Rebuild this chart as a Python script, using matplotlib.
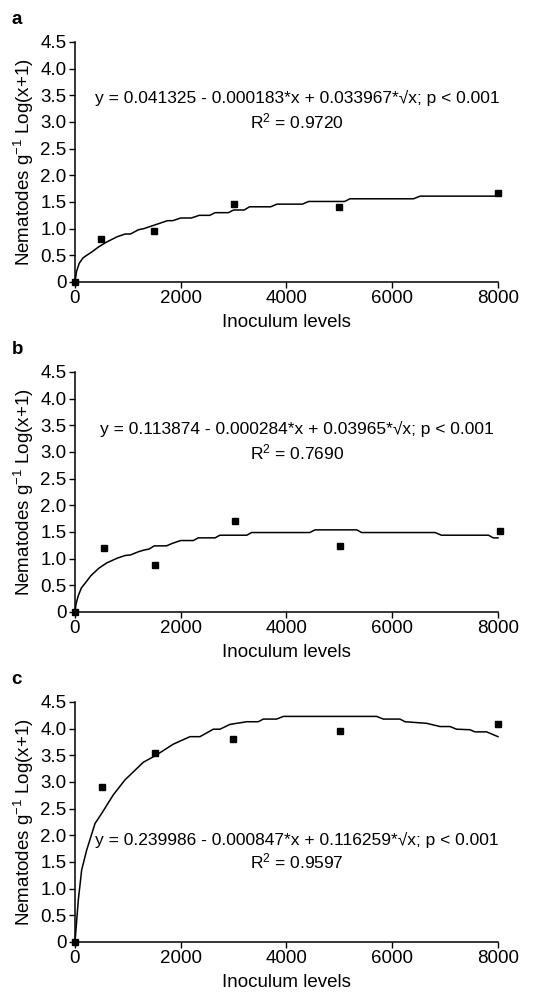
import matplotlib
matplotlib.use("Agg")
import matplotlib.pyplot as plt

plt.rcParams["font.family"] = ["Liberation Sans", "DejaVu Sans"]
plt.rcParams["mathtext.fontset"] = "custom"
plt.rcParams["mathtext.rm"] = "Liberation Sans"
plt.rcParams["mathtext.it"] = "Liberation Sans:italic"
plt.rcParams["mathtext.default"] = "regular"

# observed points
a_x = [0, 500, 1500, 3000, 5000, 8000]
a_y = [0, 0.81, 0.96, 1.46, 1.41, 1.66]
b_x = [0, 550, 1520, 3030, 5020, 8030]
b_y = [0, 1.20, 0.88, 1.71, 1.24, 1.52]
c_x = [0, 520, 1510, 2990, 5020, 8000]
c_y = [0, 2.90, 3.54, 3.81, 3.95, 4.09]

# fitted curves
a_curve_x = [0, 30, 80, 150, 220, 300, 450, 600, 800, 950, 1050, 1200, 1300, 1450,
             1600, 1750, 1850, 2000, 2200, 2350, 2550, 2650, 2900, 3000, 3200, 3300,
             3700, 3820, 4300, 4420, 5100, 5200, 6400, 6530, 8000]
a_curve_y = [0, 0.2, 0.35, 0.45, 0.5, 0.55, 0.66, 0.75, 0.85, 0.9, 0.9, 0.98, 1.0, 1.05,
             1.1, 1.15, 1.15, 1.2, 1.2, 1.25, 1.25, 1.3, 1.3, 1.35, 1.35, 1.41,
             1.41, 1.46, 1.46, 1.51, 1.51, 1.56, 1.56, 1.61, 1.61]
b_curve_x = [0, 20, 60, 120, 200, 300, 450, 600, 800, 950, 1050, 1200, 1300, 1400,
             1500, 1730, 1850, 2000, 2240, 2330, 2650, 2740, 3250, 3340, 4440, 4540,
             5330, 5420, 6810, 6930, 7820, 7910, 8000]
b_curve_y = [0, 0.15, 0.3, 0.45, 0.55, 0.68, 0.82, 0.92, 1.01, 1.06, 1.07, 1.13, 1.16, 1.18,
             1.24, 1.24, 1.29, 1.34, 1.34, 1.39, 1.39, 1.44, 1.44, 1.49, 1.49, 1.54,
             1.54, 1.49, 1.49, 1.44, 1.44, 1.39, 1.39]
c_curve_x = [0, 63, 126, 220, 378, 504, 725, 946, 1292, 1513, 1860, 2175, 2364, 2616,
             2742, 2931, 3247, 3467, 3562, 3814, 3940, 5705, 5831, 6146, 6241, 6651,
             6903, 7092, 7218, 7470, 7565, 7785, 8000]
c_curve_y = [0, 0.79, 1.35, 1.72, 2.22, 2.41, 2.76, 3.04, 3.37, 3.49, 3.71, 3.85, 3.85, 3.99,
             3.99, 4.08, 4.13, 4.13, 4.18, 4.18, 4.23, 4.23, 4.18, 4.18, 4.13, 4.10,
             4.04, 4.04, 3.99, 3.98, 3.94, 3.94, 3.85]

equations = [
    "y = 0.041325 - 0.000183*x + 0.033967*\u221ax; p < 0.001",
    "y = 0.113874 - 0.000284*x + 0.03965*\u221ax; p < 0.001",
    "y = 0.239986 - 0.000847*x + 0.116259*\u221ax; p < 0.001",
]
r2_values = ["0.9720", "0.7690", "0.9597"]
panel_labels = ["a", "b", "c"]
x_ticks = [0, 2000, 4000, 6000, 8000]
y_ticks = [0, 0.5, 1.0, 1.5, 2.0, 2.5, 3.0, 3.5, 4.0, 4.5]
y_tick_labels = ["0", "0.5", "1.0", "1.5", "2.0", "2.5", "3.0", "3.5", "4.0", "4.5"]

panels = [
    (a_x, a_y, a_curve_x, a_curve_y),
    (b_x, b_y, b_curve_x, b_curve_y),
    (c_x, c_y, c_curve_x, c_curve_y),
]
bottoms = [0.718, 0.388, 0.058]
text_y = [(0.767, 0.667), (0.762, 0.664), (0.425, 0.335)]

fig = plt.figure(figsize=(5.33, 10), dpi=100)
fs = 13.5

for i, (px, py, cx, cy) in enumerate(panels):
    ax = fig.add_axes([0.1407, bottoms[i], 0.7936, 0.24])
    ax.plot(cx, cy, color="black", lw=1.1, clip_on=False, zorder=2)
    ax.plot(px, py, "s", color="black", ms=5, clip_on=False, zorder=3)
    ax.set_xlim(0, 8000)
    ax.set_ylim(0, 4.5)
    ax.set_xticks(x_ticks)
    ax.set_yticks(y_ticks)
    ax.set_yticklabels(y_tick_labels)
    ax.tick_params(labelsize=fs, length=4, width=1.0, pad=2)
    for side in ["top", "right"]:
        ax.spines[side].set_visible(False)
    for side in ["left", "bottom"]:
        ax.spines[side].set_linewidth(1.1)
    ax.set_xlabel("Inoculum levels", fontsize=fs, labelpad=5)
    ax.set_ylabel("Nematodes g$^{-1}$ Log(x+1)", fontsize=fs, labelpad=3)
    ey, ry = text_y[i]
    ax.text(0.525, ey, equations[i], transform=ax.transAxes, ha="center", va="center",
            fontsize=fs - 1)
    ax.text(0.525, ry, "R$^2$ = " + r2_values[i], transform=ax.transAxes,
            ha="center", va="center", fontsize=fs - 1)
    fig.text(0.022, bottoms[i] + 0.24 + 0.022, panel_labels[i], fontsize=fs,
             fontweight="bold", ha="left", va="center")

fig.savefig("out.png", dpi=100)
